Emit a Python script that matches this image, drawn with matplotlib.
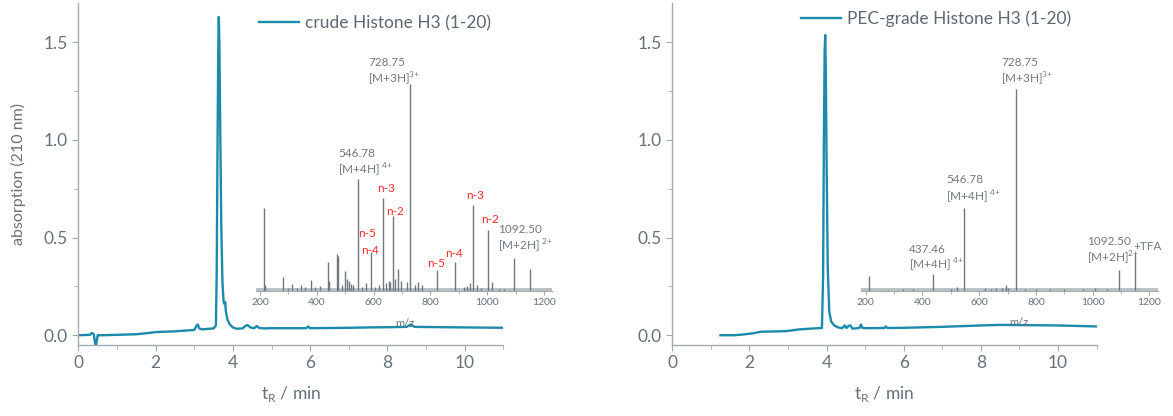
import numpy as np
import matplotlib
matplotlib.use("Agg")
import matplotlib.pyplot as plt
from matplotlib.ticker import MultipleLocator

plt.rcParams['font.family'] = ['Lato', 'DejaVu Sans']
plt.rcParams['mathtext.fontset'] = 'custom'
plt.rcParams['mathtext.rm'] = 'Lato'

# chromatogram, crude sample
crude_t = [0, 0.3, 0.35, 0.40, 0.44, 0.46, 0.50, 0.6, 1.0, 1.5, 1.75, 2.0, 2.5, 3.0, 3.05,
           3.09, 3.13, 3.2, 3.5, 3.56, 3.58, 3.60, 3.62, 3.635, 3.65, 3.67, 3.70, 3.73, 3.76,
           3.78, 3.80, 3.82, 3.86, 3.92, 4.0, 4.1, 4.25, 4.33, 4.38, 4.45, 4.55, 4.62, 4.68,
           4.8, 5.0, 5.5, 5.9, 5.95, 6.0, 6.5, 7.0, 7.5, 8.0, 8.5, 8.6, 8.7, 9.0, 10.0, 11.0]
crude_abs = [0.0, 0.002, 0.012, 0.005, -0.05, -0.05, 0.0, 0.0, 0.002, 0.005, 0.01, 0.016, 0.02,
             0.027, 0.045, 0.055, 0.035, 0.03, 0.035, 0.05, 0.3, 0.9, 1.45, 1.63, 1.5, 1.1, 0.55,
             0.27, 0.17, 0.16, 0.17, 0.12, 0.08, 0.055, 0.04, 0.033, 0.035, 0.048, 0.052, 0.04,
             0.036, 0.047, 0.037, 0.035, 0.036, 0.036, 0.036, 0.045, 0.036, 0.037, 0.038, 0.04,
             0.041, 0.043, 0.055, 0.043, 0.042, 0.04, 0.038]

# chromatogram, PEC-purified sample
pec_t = [1.25, 1.6, 1.8, 2.1, 2.3, 2.6, 2.95, 3.3, 3.6, 3.88, 3.91, 3.93, 3.95, 3.965, 3.98,
         4.0, 4.03, 4.07, 4.12, 4.2, 4.3, 4.4, 4.47, 4.52, 4.57, 4.62, 4.67, 4.75, 4.85, 4.89,
         4.93, 5.0, 5.5, 5.53, 5.58, 6.0, 7.0, 8.0, 8.5, 9.0, 10.0, 11.0]
pec_abs = [0.0, 0.0, 0.003, 0.01, 0.018, 0.019, 0.021, 0.03, 0.034, 0.037, 0.3, 1.0, 1.45,
           1.537, 1.35, 0.9, 0.35, 0.12, 0.07, 0.05, 0.04, 0.036, 0.05, 0.037, 0.048, 0.05,
           0.034, 0.035, 0.037, 0.055, 0.037, 0.036, 0.037, 0.045, 0.037, 0.038, 0.043, 0.05,
           0.053, 0.052, 0.05, 0.045]

# mass spectra (relative intensity)
crude_mz = [214, 218, 280, 300, 314, 330, 343, 360, 378, 395, 410, 438, 442, 470, 475, 490,
            500, 508, 515, 522, 529, 546.78, 560, 575, 591, 605, 620, 634, 645, 653, 658, 667,
            676, 686, 698, 719, 728.75, 745, 755, 770, 822, 887, 920, 928, 939, 951, 965, 980,
            1002, 1016, 1040, 1060, 1093, 1151]
crude_int = [0.40, 0.03, 0.07, 0.015, 0.035, 0.015, 0.03, 0.02, 0.055, 0.02, 0.025, 0.14, 0.05,
             0.18, 0.17, 0.03, 0.097, 0.06, 0.05, 0.035, 0.03, 0.54, 0.02, 0.04, 0.19, 0.02,
             0.03, 0.45, 0.04, 0.05, 0.045, 0.36, 0.06, 0.108, 0.05, 0.045, 1.0, 0.03, 0.045,
             0.03, 0.103, 0.138, 0.02, 0.025, 0.04, 0.417, 0.03, 0.015, 0.295, 0.044, 0.01,
             0.01, 0.16, 0.106]

pec_mz = [212, 280, 330, 365, 437.46, 500, 521, 546.78, 620, 640, 660, 680, 693, 700, 728.75,
          760, 800, 850, 900, 965, 1010, 1050, 1092.5, 1150]
pec_int = [0.073, 0.005, 0.006, 0.008, 0.083, 0.01, 0.016, 0.41, 0.012, 0.01, 0.012, 0.015,
           0.03, 0.012, 1.0, 0.008, 0.008, 0.006, 0.008, 0.01, 0.015, 0.008, 0.10, 0.185]

# annotations: (text, m/z, rel. height, colour)
crude_labels = [("728.75", 580, 1.106, 'g'), ("[M+3H]$^{\\mathregular{3{+}}}$", 580, 1.02, 'g'),
                ("546.78", 475, 0.662, 'g'), ("[M+4H] $^{\\mathregular{4{+}}}$", 475, 0.58, 'g'),
                ("1092.50", 1038, 0.295, 'g'), ("[M+2H] $^{\\mathregular{2{+}}}$", 1038, 0.213, 'g'),
                ("n-3", 612, 0.493, 'r'), ("n-2", 644, 0.386, 'r'), ("n-5", 545, 0.28, 'r'),
                ("n-4", 556, 0.198, 'r'), ("n-5", 788, 0.135, 'r'), ("n-4", 851, 0.179, 'r'),
                ("n-3", 925, 0.459, 'r'), ("n-2", 978, 0.343, 'r')]
pec_labels = [("728.75", 678, 1.129, 'g'), ("[M+3H]$^{\\mathregular{3{+}}}$", 678, 1.046, 'g'),
              ("546.78", 483, 0.548, 'g'), ("[M+4H] $^{\\mathregular{4{+}}}$", 483, 0.462, 'g'),
              ("437.46", 353, 0.205, 'g'), ("[M+4H] $^{\\mathregular{4{+}}}$", 353, 0.127, 'g'),
              ("1092.50", 979, 0.243, 'g'), ("[M+2H]$^{\\mathregular{2{+}}}$", 979, 0.16, 'g'),
              ("+TFA", 1143, 0.218, 'g')]

teal = '#1a8bab'
axis_gray = '#a3aab0'
text_gray = '#66717b'
ms_gray = '#6f7880'
red = '#ff2a2a'

fig = plt.figure(figsize=(11.73, 4.16), dpi=100)


def main_axes(rect, t, a, label, leg_anchor, ylabel):
    ax = fig.add_axes(rect)
    ax.plot(t, a, color=teal, lw=1.7, label=label)
    ax.set_xlim(0, 11)
    ax.set_ylim(-0.05, 1.70)
    ax.set_yticks([0, 0.5, 1.0, 1.5])
    ax.set_yticklabels(['0.0', '0.5', '1.0', '1.5'])
    ax.set_xticks([0, 2, 4, 6, 8, 10])
    ax.xaxis.set_minor_locator(MultipleLocator(1))
    ax.yaxis.set_minor_locator(MultipleLocator(0.25))
    for s in ['top', 'right']:
        ax.spines[s].set_visible(False)
    for s in ['left', 'bottom']:
        ax.spines[s].set_color(axis_gray)
        ax.spines[s].set_linewidth(1.0)
    ax.tick_params(which='major', length=4, color=axis_gray, labelcolor=text_gray, labelsize=12.5)
    ax.tick_params(which='minor', length=3, color=axis_gray)
    ax.set_xlabel('t$_\\mathregular{R}$ / min', fontsize=12.5, color=text_gray, labelpad=9)
    if ylabel:
        ax.set_ylabel('absorption (210 nm)', fontsize=11.5, color=text_gray, labelpad=13)
    ax.patch.set_visible(False)
    leg = ax.legend(loc='center left', bbox_to_anchor=leg_anchor, frameon=False, fontsize=12.5,
                    handlelength=2.3, handletextpad=0.35, borderpad=0, borderaxespad=0)
    for txt in leg.get_texts():
        txt.set_color('#5d6873')
    return ax


def ms_inset(rect, mz, inten, labels, mz_label_x):
    ins = fig.add_axes(rect)
    ins.patch.set_visible(False)
    ins.set_xlim(185, 1230)
    ins.set_ylim(0, 1.0)
    ins.axhline(0.008, color='#b8bdc1', lw=2.0, zorder=1)
    ins.vlines(mz, 0, inten, color=ms_gray, lw=1.0, zorder=2)
    for s in ['top', 'right', 'left']:
        ins.spines[s].set_visible(False)
    ins.spines['bottom'].set_color(axis_gray)
    ins.set_yticks([])
    ins.set_xticks([200, 400, 600, 800, 1000, 1200])
    ins.xaxis.set_minor_locator(MultipleLocator(100))
    ins.tick_params(which='major', length=3, color=axis_gray, labelcolor=text_gray,
                    labelsize=7.5, pad=2)
    ins.tick_params(which='minor', length=2, color=axis_gray)
    ins.text(mz_label_x, -0.155, 'm/z', transform=ins.transAxes, ha='center', va='center',
             fontsize=8, color=text_gray)
    for txt, x, y, c in labels:
        ins.text(x, y, txt, ha='left', va='center', fontsize=8.5, clip_on=False,
                 color=red if c == 'r' else ms_gray)
    return ins


main_axes([0.0668, 0.1707, 0.3623, 0.8214], crude_t, crude_abs, 'crude Histone H3 (1-20)',
          (0.426, 0.942), True)
main_axes([0.5731, 0.1707, 0.3618, 0.8214], pec_t, pec_abs, 'PEC-grade Histone H3 (1-20)',
          (0.3026, 0.956), False)
ms_inset([0.218, 0.3005, 0.2530, 0.4976], crude_mz, crude_int, crude_labels, 0.503)
ms_inset([0.7344, 0.3012, 0.2527, 0.4856], pec_mz, pec_int, pec_labels, 0.53)

fig.savefig('out.png', dpi=100)
